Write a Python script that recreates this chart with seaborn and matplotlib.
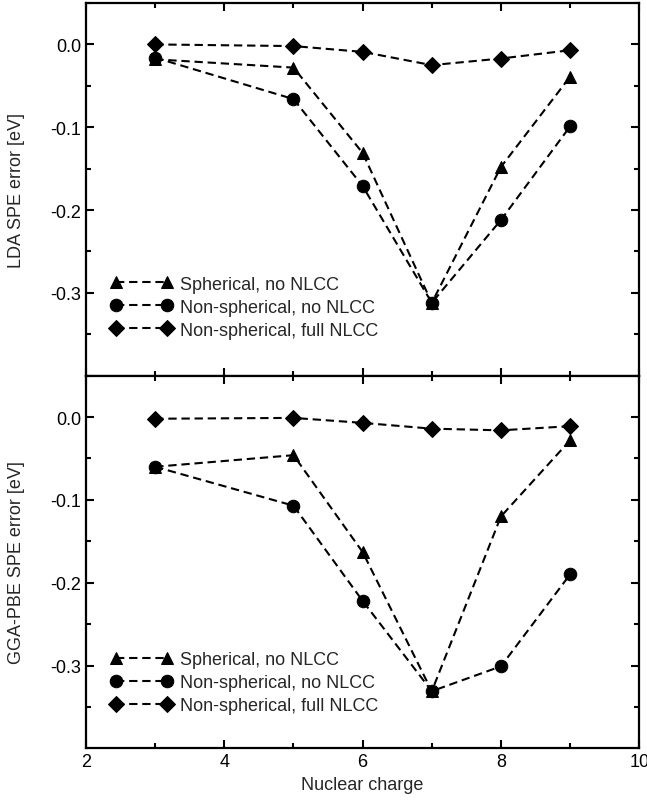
import numpy as np
import pandas as pd
import matplotlib
matplotlib.use("Agg")
import matplotlib.pyplot as plt
import seaborn as sns
from matplotlib.ticker import MultipleLocator

charge = [3, 5, 6, 7, 8, 9]

lda_sph = [-0.018, -0.028, -0.131, -0.312, -0.148, -0.039]
lda_nonsph = [-0.016, -0.066, -0.171, -0.312, -0.212, -0.099]
lda_nlcc = [0.000, -0.002, -0.009, -0.025, -0.017, -0.007]

gga_sph = [-0.060, -0.046, -0.163, -0.331, -0.120, -0.028]
gga_nonsph = [-0.060, -0.107, -0.222, -0.331, -0.301, -0.190]
gga_nlcc = [-0.002, -0.001, -0.007, -0.014, -0.016, -0.011]

labels = ["Spherical, no NLCC", "Non-spherical, no NLCC", "Non-spherical, full NLCC"]
markers = ["^", "o", "D"]
yticks = [0.0, -0.1, -0.2, -0.3]
yminor = [0.05, -0.05, -0.15, -0.25, -0.35]

sns.set_style("ticks")
plt.rcParams["font.family"] = ["Liberation Sans", "DejaVu Sans"]
plt.rcParams["font.size"] = 13

fig, (ax1, ax2) = plt.subplots(2, 1, figsize=(6.47, 8.04), dpi=100, sharex=True)
fig.subplots_adjust(left=0.133, right=0.988, top=0.995, bottom=0.068, hspace=0)

panels = [
    (ax1, [lda_sph, lda_nonsph, lda_nlcc], "LDA SPE error [eV]", 0.268),
    (ax2, [gga_sph, gga_nonsph, gga_nlcc], "GGA-PBE SPE error [eV]", 0.26),
]

for ax, series, ylabel, leg_y in panels:
    for vals, lab, mk in zip(series, labels, markers):
        ms = 9 if mk != "D" else 8
        df = pd.DataFrame({"charge": charge, "err": vals})
        sns.lineplot(data=df, x="charge", y="err", ax=ax, color="black",
                     marker=mk, markersize=ms, markeredgecolor="black",
                     linestyle=(0, (4, 2.3)), linewidth=1.5, label=lab)
    ax.set_xlim(2, 10)
    ax.set_ylim(-0.4, 0.05)
    ax.set_yticks(yticks)
    ax.set_yticklabels([f"{v:.1f}" if v != 0 else "0.0" for v in yticks])
    ax.set_yticks(yminor, minor=True)
    ax.xaxis.set_major_locator(MultipleLocator(2))
    ax.xaxis.set_minor_locator(MultipleLocator(1))
    ax.tick_params(which="both", direction="in", top=True, right=True,
                   width=1.5, labelsize=13, colors="black")
    ax.tick_params(which="major", length=6)
    ax.tick_params(which="minor", length=3.5)
    for sp in ax.spines.values():
        sp.set_linewidth(1.6)
        sp.set_color("black")
    ax.set_ylabel(ylabel, fontsize=13)
    ax.yaxis.set_label_coords(-0.11, 0.5)
    ax.legend(loc="upper left", bbox_to_anchor=(0.045, leg_y), frameon=False,
              borderpad=0, borderaxespad=0, handlelength=3.4, handletextpad=0.45,
              labelspacing=0.33, numpoints=2, fontsize=13)

ax1.set_xlabel("")
ax2.set_xlabel("Nuclear charge", fontsize=13)

fig.savefig("out.png", dpi=100)
